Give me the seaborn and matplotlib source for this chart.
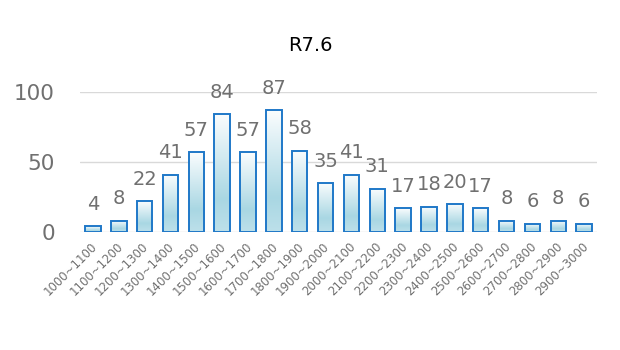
import numpy as np
import pandas as pd
import matplotlib
matplotlib.use("Agg")
import matplotlib.pyplot as plt
import matplotlib.transforms as mtransforms
import seaborn as sns
from matplotlib.colors import LinearSegmentedColormap

categories = ["1000~1100", "1100~1200", "1200~1300", "1300~1400", "1400~1500",
              "1500~1600", "1600~1700", "1700~1800", "1800~1900", "1900~2000",
              "2000~2100", "2100~2200", "2200~2300", "2300~2400", "2400~2500",
              "2500~2600", "2600~2700", "2700~2800", "2800~2900", "2900~3000"]
values = [4, 8, 22, 41, 57, 84, 57, 87, 58, 35, 41, 31, 17, 18, 20, 17, 8, 6, 8, 6]
yticks = [0, 50, 100]
title = "R7.6"

sns.set_theme(style="white")
plt.rcParams['font.family'] = ['DejaVu Sans']

df = pd.DataFrame({"cat": categories, "val": values})

fig = plt.figure(figsize=(6.2, 3.5), dpi=100)
ax = fig.add_axes([0.129, 0.337, 0.834, 0.400])

sns.barplot(data=df, x="cat", y="val", ax=ax, width=0.6, color="white",
            edgecolor="#1f78c8", linewidth=1.4, zorder=3)

ax.set_xlim(-0.5, len(categories) - 0.5)
ax.set_ylim(0, 100)

# gradient fill inside each bar (white at top -> light blue at bottom)
cmap = LinearSegmentedColormap.from_list(
    "g", [(0.0, "#fbfdfe"), (0.72, "#a9d7e3"), (1.0, "#bde0ea")])
grad = np.linspace(0, 1, 256).reshape(-1, 1)
for p in ax.patches:
    x0, y0 = p.get_x(), p.get_y()
    w, h = p.get_width(), p.get_height()
    im = ax.imshow(grad, cmap=cmap, aspect="auto",
                   extent=[x0, x0 + w, y0, y0 + h], origin="upper", zorder=2.5)
    im.set_clip_path(p)
    p.set_facecolor("none")

ax.set_xlim(-0.5, len(categories) - 0.5)
ax.set_ylim(0, 100)

for i, v in enumerate(values):
    ax.annotate(str(v), (i, v), xytext=(0, 9), textcoords="offset points",
                ha="center", va="bottom", fontsize=14, color="#707070",
                annotation_clip=False)

ax.set_yticks(yticks)
ax.set_yticklabels([str(t) for t in yticks], fontsize=15.5, color="#707070")
ax.tick_params(axis="y", length=0, pad=18)
ax.set_xticks(range(len(categories)))
ax.set_xticklabels(categories, rotation=45, ha="right", va="center",
                   rotation_mode="anchor", fontsize=8.5, color="#707070")
ax.tick_params(axis="x", length=0, pad=9)
offset = mtransforms.ScaledTranslation(2 / 100, 0, fig.dpi_scale_trans)
for lbl in ax.get_xticklabels():
    lbl.set_transform(lbl.get_transform() + offset)
ax.yaxis.grid(True, color="#d9d9d9", linewidth=1, zorder=0)
ax.set_axisbelow(True)
for s in ax.spines.values():
    s.set_visible(False)
ax.set_xlabel("")
ax.set_ylabel("")

fig.text(0.5, 0.87, title, ha="center", va="center", fontsize=14, color="#000000")

fig.savefig("out.png", dpi=100)
